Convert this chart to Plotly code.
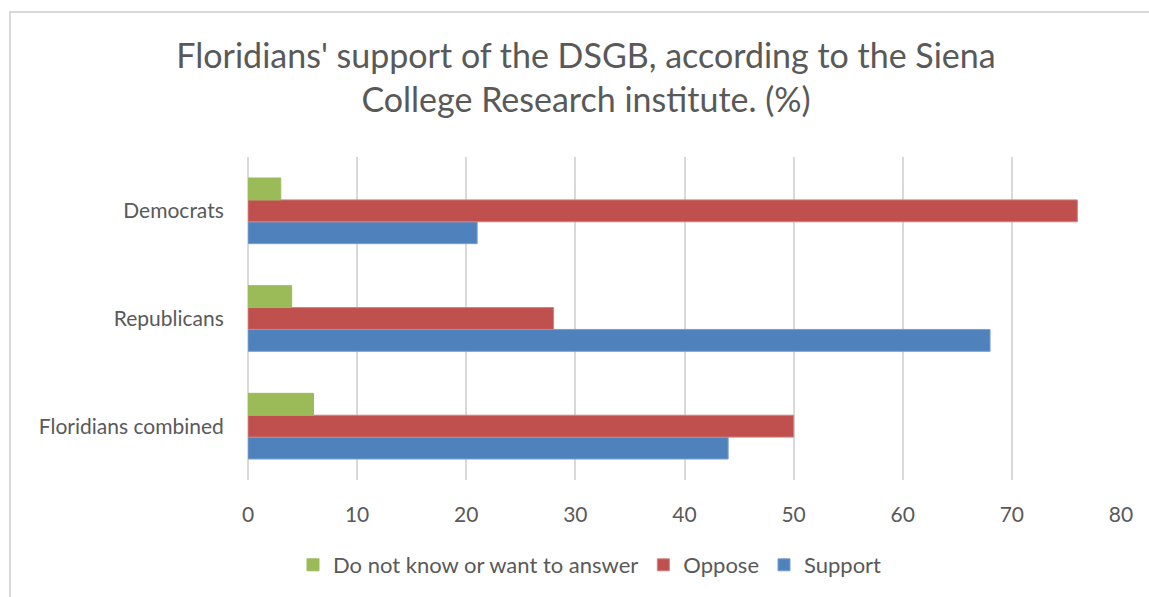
import plotly.graph_objects as go

categories = ["Floridians combined", "Republicans", "Democrats"]
support = [44, 68, 21]
oppose = [50, 28, 76]
dont_know = [6, 4, 3]
x_ticks = [0, 10, 20, 30, 40, 50, 60, 70, 80]

FONT = "Lato"
GREY = "#595959"

fig = go.Figure()
fig.add_trace(go.Bar(y=categories, x=support, name="Support", orientation="h",
                     marker=dict(color="#4F81BD", line=dict(color="#7A9FD0", width=1))))
fig.add_trace(go.Bar(y=categories, x=oppose, name="Oppose", orientation="h",
                     marker=dict(color="#C0504D", line=dict(color="#D08280", width=1))))
fig.add_trace(go.Bar(y=categories, x=dont_know, name="Do not know or want to answer", orientation="h",
                     marker=dict(color="#9BBB59", line=dict(color="#9BBB59", width=1))))

L, R, T, B = 248, 28, 157, 117
W, H = 1149, 597
pw, ph = W - L - R, H - T - B

def px(x):
    return (x - L) / pw

def py(y):
    return (H - B - y) / ph

fig.add_shape(type="rect", xref="paper", yref="paper",
              x0=px(10), x1=px(1170), y0=py(12), y1=py(620),
              line=dict(color="#D9D9D9", width=2), fillcolor="rgba(0,0,0,0)", layer="below")

fig.update_layout(
    width=W, height=H,
    margin=dict(l=L, r=R, t=T, b=B, autoexpand=False),
    paper_bgcolor="white", plot_bgcolor="white",
    barmode="group", bargap=0.39, bargroupgap=0,
    font=dict(family=FONT, color=GREY),
    title=dict(text="Floridians' support of the DSGB, according to the Siena<br>College Research institute. (%)",
               x=586 / W, xanchor="center", y=1 - 68 / H, yanchor="middle",
               font=dict(family=FONT, size=34, color=GREY)),
    xaxis=dict(range=[0, 80], tickvals=x_ticks, showgrid=True, gridcolor="#D9D9D9", gridwidth=2,
               zeroline=True, zerolinecolor="#D9D9D9", zerolinewidth=2,
               tickfont=dict(size=21, color=GREY), ticks="", ticklen=0, ticklabelstandoff=20,
               fixedrange=True),
    yaxis=dict(tickfont=dict(size=21, color=GREY), ticks="outside", ticklen=19, tickcolor="rgba(0,0,0,0)",
               showline=False, fixedrange=True),
    legend=dict(orientation="h", x=px(590), xanchor="center", y=py(565), yanchor="middle",
                traceorder="reversed", font=dict(size=22, color=GREY), itemwidth=30),
    showlegend=True,
)

fig.write_html("out.html")
